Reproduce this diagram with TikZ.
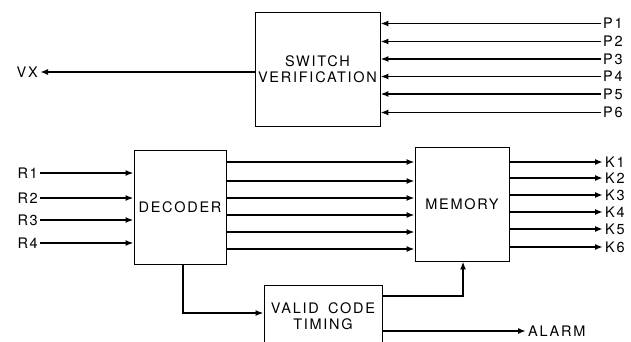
\documentclass[tikz,border=0pt]{standalone}
\usepackage{fontspec}
\setmainfont{TeX Gyre Heros}[LetterSpace=12,WordSpace=1.6]
\usetikzlibrary{arrows.meta}
\begin{document}
\begin{tikzpicture}[x=1pt,y=-1pt,
  block/.style={draw,line width=0.9pt,inner sep=0pt,align=center,
    font=\fontsize{14.5}{16}\selectfont},
  sig/.style={line width=1.9pt,-{Latex[length=8pt,width=6pt]}},
  lbl/.style={inner sep=2pt,font=\fontsize{14.5}{16}\selectfont}]
\useasboundingbox (0,0) rectangle (631,342);
\clip (0,0) rectangle (631,342);

% blocks
\node[block,minimum width=125pt,minimum height=114pt] (sw) at (317.5,69) {SWITCH\\VERIFICATION};
\node[block,minimum width=92pt,minimum height=114pt] (dec) at (180,207) {DECODER};
\node[block,minimum width=94pt,minimum height=114pt] (mem) at (462,204) {MEMORY};
\node[block,minimum width=118pt,minimum height=62pt] (vct) at (323,316) {VALID CODE\\TIMING};

% switch verification inputs and output
\foreach \i/\y in {1/23.5,2/41.5,3/59,4/76.5,5/94,6/112.5}{
  \node[lbl,anchor=west] (p\i) at (601,\y) {P\i};
  \draw[sig] (p\i.west) -- (p\i.west -| sw.east);
}
\node[lbl,anchor=east] (vx) at (40,72) {VX};
\draw[sig] (sw.west |- vx.east) -- (vx.east);

% decoder inputs
\foreach \i/\y in {1/173,2/198,3/220,4/243}{
  \node[lbl,anchor=east] (r\i) at (40,\y) {R\i};
  \draw[sig] (r\i.east) -- (r\i.east -| dec.west);
}

% decoder to memory
\foreach \i/\y in {1/162,2/181,3/198,4/215,5/232,6/249}{
  \coordinate (d\i) at (226,\y);
  \draw[sig] (d\i) -- (d\i -| mem.west);
}

% memory outputs
\foreach \i/\y in {1/162,2/178,3/195,4/212,5/229,6/247}{
  \node[lbl,anchor=west] (k\i) at (603,\y) {K\i};
  \draw[sig] (mem.east |- k\i.west) -- (k\i.west);
}

% timing paths
\coordinate (dtap) at (183,264);
\draw[sig] (dtap) |- (vct.west |- 0,313);
\coordinate (vout) at (382,296);
\draw[sig] (vout) -| (mem.south -| 463,0);
\node[lbl,anchor=west] (alarm) at (526,331) {ALARM};
\draw[sig] (vct.east |- alarm.west) -- (alarm.west);
\end{tikzpicture}
\end{document}
